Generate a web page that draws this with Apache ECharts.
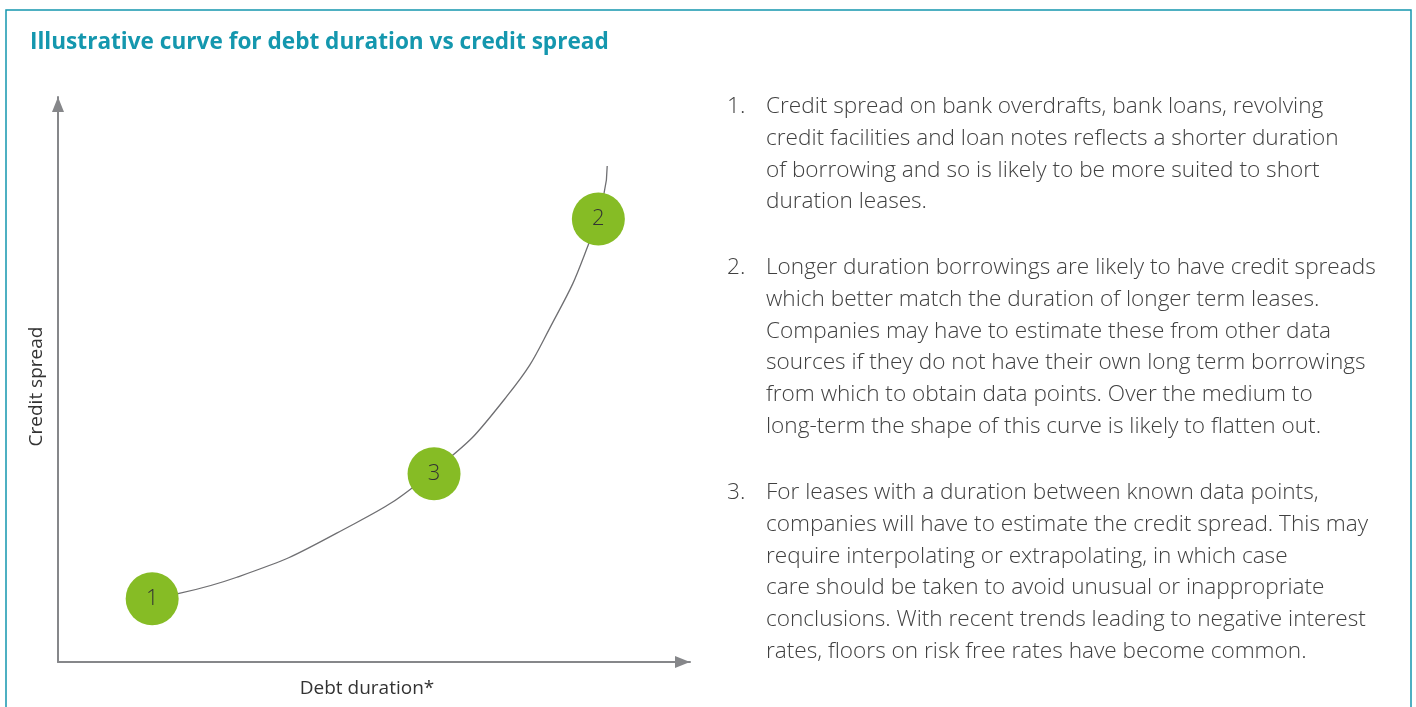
<!DOCTYPE html>
<html>
<head>
<meta charset="utf-8">
<script src="https://cdn.jsdelivr.net/npm/echarts@6/dist/echarts.min.js"></script>
<style>
html,body{margin:0;padding:0;background:#fff;}
#main{width:1416px;height:707px;}
</style>
</head>
<body>
<div id="main"></div>
<script>
// Curve (debt duration vs credit spread), illustrative units 0-100
var curveX = [14.9, 28.3, 44.1, 59.2, 71.0, 78.9, 83.9, 86.4, 86.9];
var curveY = [11.2, 15.0, 22.8, 33.6, 47.0, 61.4, 73.8, 83.0, 87.8];
// Numbered markers
var markerLabels = ['1', '3', '2'];
var markerX = [14.9, 59.5, 85.5];
var markerY = [11.2, 33.3, 78.4];

var titleText = 'Illustrative curve for debt duration vs credit spread';
var xName = 'Debt duration*';
var yName = 'Credit spread';

var noteNumbers = ['1.', '2.', '3.'];
var noteParagraphs = [
  'Credit spread on bank overdrafts, bank loans, revolving\ncredit facilities and loan notes reflects a shorter duration\nof borrowing and so is likely to be more suited to short\nduration leases.',
  'Longer duration borrowings are likely to have credit spreads\nwhich better match the duration of longer term leases.\nCompanies may have to estimate these from other data\nsources if they do not have their own long term borrowings\nfrom which to obtain data points. Over the medium to\nlong-term the shape of this curve is likely to flatten out.',
  'For leases with a duration between known data points,\ncompanies will have to estimate the credit spread. This may\nrequire interpolating or extrapolating, in which case\ncare should be taken to avoid unusual or inappropriate\nconclusions. With recent trends leading to negative interest\nrates, floors on risk free rates have become common.'
];

var TEAL = '#1497ae';
var FONT = '"Open Sans", "Noto Sans", sans-serif';
var curveData = curveX.map(function (x, i) { return [x, curveY[i]]; });
var markerData = markerX.map(function (x, i) { return { name: markerLabels[i], value: [x, markerY[i]] }; });

var noteTops = [91, 252, 477];
var graphics = [{
  type: 'rect', silent: true,
  shape: { x: 6, y: 10, width: 1405, height: 720 },
  style: { fill: 'none', stroke: TEAL, lineWidth: 1.5 }
}];
noteParagraphs.forEach(function (p, i) {
  graphics.push({
    type: 'text', left: 727, top: noteTops[i],
    style: { text: noteNumbers[i], font: '300 22.6px ' + FONT, fill: '#404040', lineHeight: 31.7 }
  });
  graphics.push({
    type: 'text', left: 766, top: noteTops[i],
    style: { text: p, font: '300 22.6px ' + FONT, fill: '#404040', lineHeight: 31.7 }
  });
});

var chart = echarts.init(document.getElementById('main'), null, { renderer: 'canvas' });
chart.setOption({
  animation: false,
  backgroundColor: '#fff',
  title: {
    text: titleText, left: 25, top: 26,
    textStyle: { color: TEAL, fontFamily: FONT, fontWeight: 'bold', fontSize: 22.6 }
  },
  grid: { left: 58, top: 97, width: 632, height: 565 },
  xAxis: {
    type: 'value', min: 0, max: 100,
    name: xName, nameLocation: 'middle', nameGap: 17,
    nameTextStyle: { fontFamily: FONT, fontSize: 19, color: '#333', padding: [0, 14, 0, 0] },
    axisLine: { show: true, symbol: ['none', 'triangle'], symbolSize: [12, 15], symbolOffset: [0, -7.5],
      lineStyle: { color: '#86878a', width: 2 } },
    axisTick: { show: false }, axisLabel: { show: false }, splitLine: { show: false }
  },
  yAxis: {
    type: 'value', min: 0, max: 100,
    name: yName, nameLocation: 'middle', nameGap: 12,
    nameTextStyle: { fontFamily: FONT, fontSize: 19, color: '#333', padding: [0, 14, 0, 0] },
    axisLine: { show: true, symbol: ['none', 'triangle'], symbolSize: [12, 15], symbolOffset: [0, -7.5],
      lineStyle: { color: '#86878a', width: 2 } },
    axisTick: { show: false }, axisLabel: { show: false }, splitLine: { show: false }
  },
  graphic: graphics,
  series: [{
    type: 'line', data: curveData, smooth: 0.5, showSymbol: false, silent: true,
    lineStyle: { color: '#6f6f72', width: 1.3 }, z: 2
  }, {
    type: 'scatter', data: markerData, symbol: 'circle', symbolSize: 53, silent: true,
    itemStyle: { color: '#86bc25', opacity: 1 }, z: 3,
    label: { show: true, position: 'inside', formatter: '{b}', fontFamily: FONT, fontWeight: 300,
      fontSize: 22, color: '#333' }
  }]
});
</script>
</body>
</html>
